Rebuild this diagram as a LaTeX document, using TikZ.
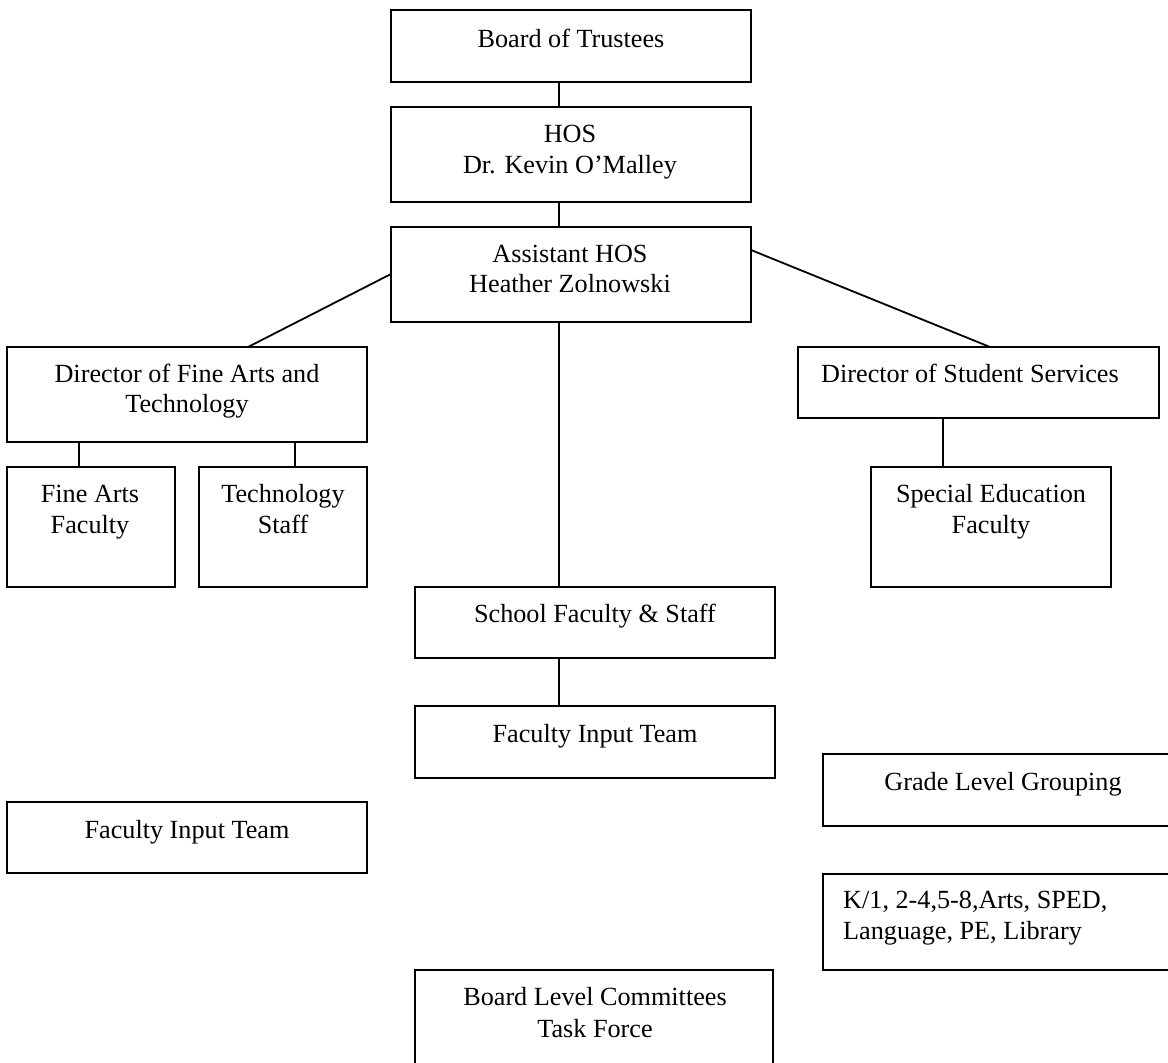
\documentclass[tikz,border=0pt]{standalone}
\usepackage{fontspec}
\setmainfont{Liberation Serif}
\begin{document}
\begin{tikzpicture}[x=1pt,y=-1pt,
  box/.style={draw=black,line width=1.9pt,rectangle,inner sep=0pt,outer sep=0pt,anchor=north west},
  txt/.style={anchor=base,inner sep=0pt,font=\fontsize{26.2}{30}\selectfont},
  txtl/.style={anchor=base west,inner sep=0pt,font=\fontsize{26.2}{30}\selectfont},
  conn/.style={draw=black,line width=1.8pt}]
\useasboundingbox (0,0) rectangle (1168,1063);
\clip (0,0) rectangle (1168,1063);
% boxes
\node[box,minimum width=360,minimum height=72] (bot) at (391,10) {};
\node[box,minimum width=360,minimum height=95] (hos) at (391,107) {};
\node[box,minimum width=360,minimum height=95] (ahos) at (391,227) {};
\node[box,minimum width=360,minimum height=95] (dfa) at (7,347) {};
\node[box,minimum width=168,minimum height=120] (fa) at (7,467) {};
\node[box,minimum width=168,minimum height=120] (ts) at (199,467) {};
\node[box,minimum width=361,minimum height=71] (dss) at (798,347) {};
\node[box,minimum width=240,minimum height=120] (sef) at (871,467) {};
\node[box,minimum width=360,minimum height=71] (sfs) at (415,587) {};
\node[box,minimum width=360,minimum height=72] (fit) at (415,706) {};
\node[box,minimum width=358,minimum height=120] (blc) at (415,970) {};
\node[box,minimum width=370,minimum height=72] (glg) at (823,754) {};
\node[box,minimum width=370,minimum height=96] (kone) at (823,874) {};
\node[box,minimum width=360,minimum height=71] (fitl) at (7,802) {};
% texts
\node[txt] (botA) at (571,47) {Board of Trustees};
\node[txt] (hosA) at (570,142) {HOS};
\node[txt] (hosB) at (570,173) {Dr. Kevin O’Malley};
\node[txt] (ahosA) at (570,262) {Assistant HOS};
\node[txt] (ahosB) at (570,292) {Heather Zolnowski};
\node[txt] (dfaA) at (187,382) {Director of Fine Arts and};
\node[txt] (dfaB) at (187,412) {Technology};
\node[txt] (faA) at (90,502) {Fine Arts};
\node[txt] (faB) at (90,533) {Faculty};
\node[txt] (tsA) at (283,502) {Technology};
\node[txt] (tsB) at (283,533) {Staff};
\node[txt] (dssA) at (970,382) {Director of Student Services};
\node[txt] (sefA) at (991,502) {Special Education};
\node[txt] (sefB) at (991,533) {Faculty};
\node[txt] (sfsA) at (595,622) {School Faculty \& Staff};
\node[txt] (fitA) at (595,742) {Faculty Input Team};
\node[txt] (blcA) at (595,1005) {Board Level Committees};
\node[txt] (blcB) at (595,1037) {Task Force};
\node[txt] (glgA) at (1003,790) {Grade Level Grouping};
\node[txtl] (koneA) at (843,908) {K/1, 2-4,5-8,Arts, SPED,};
\node[txtl] (koneB) at (843,939) {Language, PE, Library};
\node[txt] (fitlA) at (187,838) {Faculty Input Team};
% connector coordinates
\coordinate (spine) at (559,0);
\coordinate (dfax1) at (79,0);
\coordinate (dfax2) at (295,0);
\coordinate (dssx) at (943,0);
\coordinate (lstart) at (391,274);
\coordinate (lend) at (248,347);
\coordinate (rstart) at (751,250);
\coordinate (rend) at (990,347);
% connectors
\draw[conn] (bot.south -| spine) -- (hos.north -| spine);
\draw[conn] (hos.south -| spine) -- (ahos.north -| spine);
\draw[conn] (ahos.south -| spine) -- (sfs.north -| spine);
\draw[conn] (sfs.south -| spine) -- (fit.north -| spine);
\draw[conn] (ahos.west |- lstart) -- (dfa.north -| lend);
\draw[conn] (ahos.east |- rstart) -- (dss.north -| rend);
\draw[conn] (dfa.south -| dfax1) -- (fa.north -| dfax1);
\draw[conn] (dfa.south -| dfax2) -- (ts.north -| dfax2);
\draw[conn] (dss.south -| dssx) -- (sef.north -| dssx);
\end{tikzpicture}
\end{document}
